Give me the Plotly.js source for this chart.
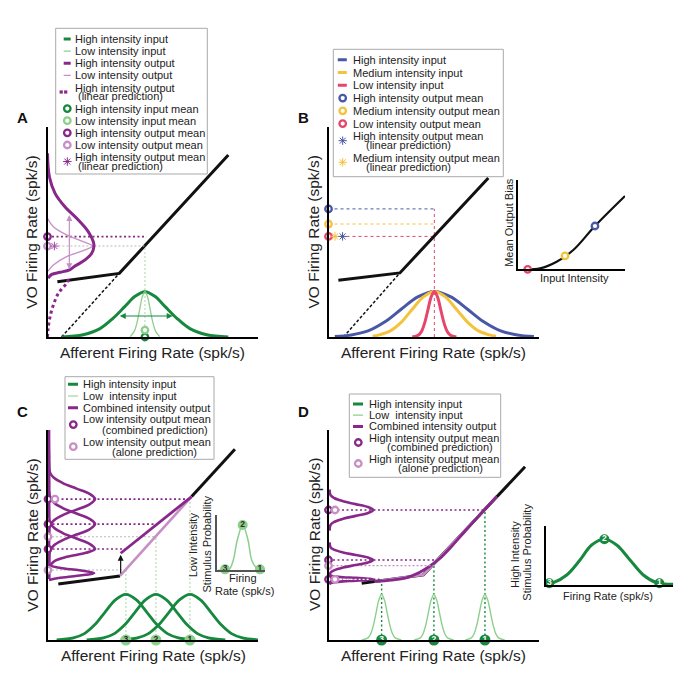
<!DOCTYPE html>
<html><head><meta charset="utf-8">
<script src="https://cdn.plot.ly/plotly-3.0.1.min.js"></script>
<style>html,body{margin:0;padding:0;background:#fff}#chart{width:683px;height:700px}</style>
</head><body><div id="chart"></div>
<script>
// ================= DATA =================
// ---- Panel A
const aNonlinX = [4.7, 34.2, 86.1];
const aNonlinY = [26.3, 30.3, 86.7];
const aLinExtX = [6.7, 34.2];
const aLinExtY = [0, 30.3];
const aHighInX = [6.7, 17, 25, 31.3, 36.9, 41.7, 46.4, 51.1, 55.9, 61.5, 67.8, 75.8, 86.1];
const aHighInY = [0, 1.1, 4, 9, 14.6, 19.4, 21.6, 19.4, 14.6, 9, 4, 1.1, 0];
const aLowInX = [39.4, 41.4, 42.65, 43.9, 45.15, 46.4, 47.65, 48.9, 50.15, 51.4, 53.4];
const aLowInY = [0.2, 2.9, 7, 13.1, 19.1, 21.6, 19.1, 13.1, 7, 2.9, 0.2];
const aHighOutX = [0, 0.9, 3.6, 8.3, 14.7, 19.4, 21.8, 22.1, 21, 17.9, 13.1, 10.5, 6, 2, 0.3];
const aHighOutY = [87.5, 76.3, 68.4, 62, 55.7, 50.2, 45.4, 43, 39.8, 36.7, 33.8, 32, 30.8, 29.8, 28];
const aLowOutX = [0, 2.8, 9.1, 17, 21.5, 17, 9.1, 2.8, 0];
const aLowOutY = [56.5, 52.5, 48.6, 45.4, 43.3, 41.1, 38.3, 34.3, 31.1];
const aLinTailX = [10, 9.1, 5.2, 2.5, 0.9, 0.2, 0];
const aLinTailY = [27.5, 25.6, 20.8, 14.4, 8.1, 3, 0];
const aInMean = 46.4;
const aLowInMeanY = 3.3;
const aHighOutMean = 47.8;
const aLowOutMean = 43.3;
const aLinPredX = 3.3;
const aInWidthX = [33.7, 59.6];
const aInWidthY = 10;
const aOutWidthX = 10.4;
const aOutWidthY = [31.6, 58.1];

// ---- Panel B
const bNonlinX = [4.7, 34, 76.1];
const bNonlinY = [27, 30.5, 75.7];
const bLinExtX = [7.1, 34];
const bLinExtY = [0, 30.5];
const bInMean = 50.4;
const bHighInX = [3, 10.9, 18.8, 26.7, 34.6, 42.5, 50.4, 58.3, 66.2, 74.1, 82, 89.9, 97.8];
const bHighInY = [0.2, 1, 2.9, 7.1, 13.2, 19.1, 21.7, 19.1, 13.2, 7.1, 2.9, 1, 0.2];
const bMedInX = [21, 24.2, 29.4, 34.7, 39.9, 45.2, 50.4, 55.7, 60.9, 66.2, 71.4, 76.6, 79.8];
const bMedInY = [0.4, 1, 2.9, 7.1, 13.2, 19.1, 21.7, 19.1, 13.2, 7.1, 2.9, 1, 0.4];
const bLowInX = [39.9, 42.9, 44.4, 45.9, 47.4, 48.9, 50.4, 51.9, 53.4, 54.9, 56.4, 57.9, 60.9];
const bLowInY = [0.05, 1, 2.9, 7.1, 13.2, 19.1, 21.7, 19.1, 13.2, 7.1, 2.9, 1, 0.05];
const bOutMeans = [61, 53.8, 47.9];        // high, medium, low
const bLinPredX = [6.7, 3.1];              // high, medium (linear prediction)
const bLinPredY = 47.9;
// B inset
const biX = [6.8, 20.8, 36.3, 51.8, 72, 100];
const biY = [0, 1.1, 8.5, 21.6, 48.5, 82.1];
const biMeanX = [9.3, 44.1, 72];           // low, medium, high
const biMeanY = [0, 15, 48.5];

// ---- Panel C
const cFlatX = [4.9, 34.3];
const cFlatY = [26.7, 30.5];
const cUpperX = [68.4, 89];
const cUpperY = [68.3, 90.8];
const cAloneX = [34.3, 68.4];
const cAloneY = [30.5, 68.3];
const cCombX = [34.6, 68.4];
const cCombY = [41.3, 68.3];
const cShiftX = 34.6;
const cShiftY = [31, 40.6];
const cInMeans = [67.6, 51.4, 37.1];       // stimuli 1, 2, 3
const cAloneMeans = [67.5, 49.2, 33.3];
const cCombMeans = [67.1, 55.2, 43.3];
const cIn1X = [34.6, 42.6, 47.6, 52.6, 57.6, 62.6, 67.6, 72.6, 77.6, 82.6, 87.6, 92.6, 100];
const cIn2X = [18.4, 26.4, 31.4, 36.4, 41.4, 46.4, 51.4, 56.4, 61.4, 66.4, 71.4, 76.4, 84.4];
const cIn3X = [4.1, 12.1, 17.1, 22.1, 27.1, 32.1, 37.1, 42.1, 47.1, 52.1, 57.1, 62.1, 70.1];
const cInY = [0.1, 1, 2.9, 7.1, 13.2, 19.1, 21.7, 19.1, 13.2, 7.1, 2.9, 1, 0.1];
const cOut1X = [0.5, 0.6, 1, 3, 7.3, 13.6, 19.8, 22.4, 19.8, 13.6, 7.3, 3, 1, 0.6, 0.5, 0.5];
const cOut1Y = [100, 88, 79.6, 77.1, 74.6, 72.1, 69.6, 67.1, 64.6, 62.1, 59.6, 57.1, 54.6, 50, 40, 29];
const cOut2X = [0.5, 0.6, 1, 3, 7.3, 13.6, 19.8, 22.4, 19.8, 13.6, 7.3, 3, 1, 0.6, 0.5];
const cOut2Y = [85, 75, 67.7, 65.2, 62.7, 60.2, 57.7, 55.2, 52.7, 50.2, 47.7, 45.2, 42.7, 36, 29];
const cOut3X = [0.5, 0.6, 1, 3, 7.3, 13.6, 19.8, 22.4, 18, 9, 3, 1.5, 6, 15, 22, 14, 5, 0.5];
const cOut3Y = [71, 62, 55.8, 53.3, 50.8, 48.3, 45.8, 43.3, 41.5, 39.6, 37.5, 35.5, 34.3, 33.2, 31.8, 30.6, 29.5, 28.6];
const cNumLabels = ['3', '2', '1'];
// C inset
const ciX = [3.3, 25, 34.4, 42.6, 53.8, 64.8, 72.5, 82.8, 95];
const ciY = [0, 0.5, 18.2, 54.5, 81.8, 54.5, 18.2, 3.6, 0];
const ciNumX = [17.2, 53.8, 89.6];
const ciNumY = [1.2, 81.8, 1.2];

// ---- Panel D
const dNonlinX = [15.8, 45.2, 93.6];
const dNonlinY = [27, 31, 82.5];
const dAloneX = [22, 45.2, 80.1];
const dAloneY = [27.8, 31, 68.3];
const dCombX = [22, 30, 37, 43, 48, 53, 59, 65, 72, 80.1];
const dCombY = [27.9, 28.5, 29.6, 32, 35, 38.8, 45, 51.8, 59.6, 68.3];
const dInMeans = [74.5, 50.2, 25.3];       // stimuli 1, 2, 3
const dCombMeans = [61.9, 38.1, 28.9];
const dAloneMeans = [61.9, 35.4, 28.9];
const dCurveAtMeans = [62.3, 36.5, 28.2];
const dIn1X = [65.1, 68, 69.3, 70.6, 71.9, 73.2, 74.5, 75.8, 77.1, 78.4, 79.7, 81, 83.9];
const dIn2X = [40.8, 43.7, 45, 46.3, 47.6, 48.9, 50.2, 51.5, 52.8, 54.1, 55.4, 56.7, 59.6];
const dIn3X = [15.9, 18.8, 20.1, 21.4, 22.7, 24, 25.3, 26.6, 27.9, 29.2, 30.5, 31.8, 34.7];
const dInY = [0, 1, 2.9, 7.1, 13.2, 19.1, 21.7, 19.1, 13.2, 7.1, 2.9, 1, 0];
const dOutX = [0.5, 1, 2.9, 6.9, 12.9, 18.8, 21.3, 18.8, 12.9, 6.9, 2.9, 1, 0.5];
const dOut1Y = [71.7, 68.9, 67.5, 66.1, 64.7, 63.3, 61.9, 60.5, 59.1, 57.7, 56.3, 54.9, 52.1];
const dOut2Y = [46.5, 44.1, 42.9, 41.7, 40.5, 39.3, 38.1, 36.9, 35.7, 34.5, 33.3, 32.1, 29.7];
const dOut3Y = [31.4, 30.7, 30.3, 29.9, 29.6, 29.2, 28.9, 28.6, 28.2, 27.9, 27.5, 27.1, 26.4];
const dNumLabels = ['1', '2', '3'];
// D inset
const diX = [0.8, 6, 16.5, 26.9, 36, 46, 55.6, 66.1, 76.5, 87, 100];
const diY = [1.1, 3.9, 17, 42.4, 67.8, 77.5, 67.8, 42.4, 17, 3.9, 1.1];
const diNumX = [2.8, 46, 89.1];
const diNumY = [2.9, 77.5, 2.9];

// ---- Legends
const legALabels = [['High intensity input'], ['Low intensity input'], ['High intensity output'], ['Low intensity output'],
  ['High intensity output', '(linear prediction)'], ['High intensity input mean'], ['Low intensity input mean'],
  ['High intensity output mean'], ['Low intensity output mean'], ['High intensity output mean', '(linear prediction)']];
const legAKeys = ['thick:green', 'thin:lgreen', 'thick:purple', 'thin:lpurple', 'dot:purple', 'ring:green', 'ring:lgreen', 'ring:purple', 'ring:lpurple', 'star:purple'];
const legBLabels = [['High intensity input'], ['Medium intensity input'], ['Low intensity input'], ['High intensity output mean'],
  ['Medium intensity output mean'], ['Low intensity output mean'], ['High intensity output mean', '(linear prediction)'],
  ['Medium intensity output mean', '(linear prediction)']];
const legBKeys = ['thick:blue', 'thick:yellow', 'thick:red', 'ring:blue', 'ring:yellow', 'ring:red', 'star:blue', 'star:yellow'];
const legCLabels = [['High intensity input'], ['Low\u00a0 intensity input'], ['Combined intensity output'],
  ['Low intensity output mean', '(combined prediction)'], ['Low intensity output mean', '(alone prediction)']];
const legCKeys = ['thick:green', 'thin:lgreen', 'thick:purple', 'ring:purple', 'ring:lpurple'];
const legDLabels = [['High intensity input'], ['Low\u00a0 intensity input'], ['Combined intensity output'],
  ['High intensity output mean', '(combined prediction)'], ['High intensity output mean', '(alone prediction)']];
const legDKeys = ['thick:green', 'thin:lgreen', 'thick:purple', 'ring:purple', 'ring:lpurple'];

// ================= STYLE / LAYOUT =================
const F = 'Liberation Sans, Arial, Helvetica, sans-serif';
const COL = {green: '#17893e', lgreen: '#8ccf8a', purple: '#88288a', lpurple: '#c78fc5', blue: '#4858a6',
  yellow: '#f4c23c', red: '#e6466b', black: '#111111', grayDot: '#b9b9b9', greenDot: '#a9d5a9', text: '#222222'};
const W = 683, H = 700;
const traces = [];
const ann = [];
const shapes = [];
const layout = {width: W, height: H, margin: {l: 0, r: 0, t: 0, b: 0}, showlegend: false,
  paper_bgcolor: '#fff', plot_bgcolor: 'rgba(0,0,0,0)', font: {family: F, color: COL.text}};

function sfx(n) { return n === 1 ? '' : String(n); }
function addAxes(n, box, range, xl, yl) {
  const base = {showgrid: false, zeroline: false, showticklabels: false, ticks: '', fixedrange: true};
  layout['xaxis' + sfx(n)] = Object.assign({}, base, {domain: [box[0] / W, box[1] / W], range: range[0], anchor: 'y' + sfx(n),
    showline: !!xl, linecolor: xl ? xl[0] : '#000', linewidth: xl ? xl[1] : 1, visible: true});
  layout['yaxis' + sfx(n)] = Object.assign({}, base, {domain: [1 - box[3] / H, 1 - box[2] / H], range: range[1], anchor: 'x' + sfx(n),
    showline: !!yl, linecolor: yl ? yl[0] : '#000', linewidth: yl ? yl[1] : 1, visible: true});
}
function add(n, x, y, o) {
  traces.push(Object.assign({type: 'scatter', x: x, y: y, xaxis: 'x' + sfx(n), yaxis: 'y' + sfx(n), mode: 'lines',
    hoverinfo: 'skip', showlegend: false, cliponaxis: false}, o));
}
function ln(n, x, y, color, width, dash, shape) {
  add(n, x, y, {line: {color: color, width: width, dash: dash || 'solid', shape: shape || 'linear', smoothing: 1}});
}
function ring(n, x, y, color, size) {
  add(n, x, y, {mode: 'markers', marker: {symbol: 'circle', size: size || 6.5, color: '#fff', line: {color: color, width: 2.3}}});
}
function star(n, x, y, color, size) {
  add(n, x, y, {mode: 'markers', marker: {symbol: 'asterisk-open', size: size || 7, color: color, line: {color: color, width: 1}}});
}
function nums(n, x, y, labels, fill, tcol, size) {
  add(n, x, y, {mode: 'markers+text', text: labels.map(s => '<b>' + s + '</b>'), textposition: 'middle center',
    marker: {size: size, color: fill, line: {width: 0}}, textfont: {family: F, size: 8.5, color: tcol}});
}
function txt(x, y, text, o) {
  ann.push(Object.assign({xref: 'paper', yref: 'paper', x: x / W, y: 1 - y / H, text: text, showarrow: false, borderpad: 0,
    font: {family: F, size: 11, color: COL.text}, xanchor: 'center', yanchor: 'middle'}, o || {}));
}
function arrow(n, x, y, ax, ay, color, both) {
  ann.push({xref: 'x' + sfx(n), yref: 'y' + sfx(n), axref: 'x' + sfx(n), ayref: 'y' + sfx(n), x: x, y: y, ax: ax, ay: ay,
    text: '', showarrow: true, arrowhead: 2, arrowsize: 1, arrowwidth: 1.2, arrowcolor: color, arrowside: both ? 'end+start' : 'end'});
}
function hline(n, x0, x1, y, color, width, dash) { ln(n, [x0, x1], [y, y], color, width, dash); }
function vline(n, x, y0, y1, color, width, dash) { ln(n, [x, x], [y0, y1], color, width, dash); }

// ---- axes (pixel boxes: left, right, top, bottom)
const R = [[0, 100], [0, 100]];
addAxes(1, [47.5, 257.5, 127, 337], R, ['#000', 2], ['#000', 2]);
addAxes(2, [328.5, 538.5, 127, 337], R, ['#000', 2], ['#000', 2]);
addAxes(3, [517.7, 625, 180, 269.3], R, ['#000', 2], ['#000', 1.6]);
addAxes(4, [48, 258, 430, 640], R, ['#000', 2], ['#000', 2]);
addAxes(5, [216.7, 265, 515, 570], R, ['#555', 1.5], ['#555', 1.8]);
addAxes(6, [328.5, 538.5, 430, 640], R, ['#000', 2], ['#000', 2]);
addAxes(7, [545.7, 673.3, 526, 585], R, ['#000', 1.5], ['#000', 1.5]);

// ================= PANEL A =================
ln(1, aLinExtX, aLinExtY, COL.black, 1.5, '3px,2px');
ln(1, aNonlinX, aNonlinY, COL.black, 3);
vline(1, aInMean, aLowInMeanY, aLowOutMean, COL.greenDot, 1, '2px,2px');
hline(1, 0, aInMean + 0.8, aHighOutMean, COL.purple, 1.6, '2px,2.5px');
hline(1, aLinPredX, aInMean + 0.8, aLowOutMean, COL.grayDot, 1.1, '2px,2px');
ln(1, aHighInX, aHighInY, COL.green, 3, 'solid', 'spline');
ln(1, aLowInX, aLowInY, COL.lgreen, 1.3, 'solid', 'spline');
ln(1, aLowOutX, aLowOutY, COL.lpurple, 1.3, 'solid', 'spline');
ln(1, aHighOutX, aHighOutY, COL.purple, 3, 'solid', 'spline');
ln(1, aLinTailX, aLinTailY, COL.purple, 3, '3px,3px', 'spline');
arrow(1, aInWidthX[1], aInWidthY, aInWidthX[0], aInWidthY, COL.green, true);
arrow(1, aOutWidthX, aOutWidthY[1], aOutWidthX, aOutWidthY[0], COL.lpurple, true);
ring(1, [aInMean], [0], COL.green);
ring(1, [aInMean], [aLowInMeanY], COL.lgreen);
ring(1, [0], [aHighOutMean], COL.purple);
ring(1, [0], [aLowOutMean], COL.lpurple);
star(1, [aLinPredX], [aLowOutMean], '#a64fa6');

// ================= PANEL B =================
vline(2, bInMean, 0, bOutMeans[0], COL.red, 1, '3px,3px');
hline(2, 0, bInMean, bOutMeans[0], COL.blue, 1, '3px,3px');
hline(2, 0, bInMean, bOutMeans[1], COL.yellow, 1, '3px,3px');
hline(2, 0, bInMean, bOutMeans[2], COL.red, 1, '3px,3px');
ln(2, bLinExtX, bLinExtY, COL.black, 1.5, '3px,2px');
ln(2, bNonlinX, bNonlinY, COL.black, 3);
ln(2, bHighInX, bHighInY, COL.blue, 3, 'solid', 'spline');
ln(2, bMedInX, bMedInY, COL.yellow, 3, 'solid', 'spline');
ln(2, bLowInX, bLowInY, COL.red, 3, 'solid', 'spline');
ring(2, [0], [bOutMeans[0]], COL.blue);
ring(2, [0], [bOutMeans[1]], COL.yellow);
ring(2, [0], [bOutMeans[2]], COL.red);
star(2, [bLinPredX[1]], [bLinPredY], COL.yellow);
star(2, [bLinPredX[0]], [bLinPredY], COL.blue);
// B inset
ln(3, biX, biY, COL.black, 2.2, 'solid', 'spline');
ring(3, [biMeanX[0]], [biMeanY[0]], COL.red);
ring(3, [biMeanX[1]], [biMeanY[1]], COL.yellow);
ring(3, [biMeanX[2]], [biMeanY[2]], COL.blue);

// ================= PANEL C =================
cInMeans.forEach((m, i) => vline(4, m, 0, cAloneMeans[i], COL.greenDot, 1, '2px,2px'));
cCombMeans.forEach((m, i) => hline(4, 0, cInMeans[i], m, COL.purple, 1.6, '2px,2.5px'));
[1, 2].forEach(i => hline(4, 0, cInMeans[i], cAloneMeans[i], COL.grayDot, 1.1, '2px,2px'));
ln(4, cFlatX, cFlatY, COL.black, 3);
ln(4, cUpperX, cUpperY, COL.black, 3);
ln(4, cAloneX, cAloneY, COL.lpurple, 2.6);
ln(4, cCombX, cCombY, COL.purple, 2.8);
arrow(4, cShiftX, cShiftY[1], cShiftX, cShiftY[0], COL.black, false);
ln(4, cIn1X, cInY, COL.green, 2.8, 'solid', 'spline');
ln(4, cIn2X, cInY, COL.green, 2.8, 'solid', 'spline');
ln(4, cIn3X, cInY, COL.green, 2.8, 'solid', 'spline');
ln(4, cOut1X, cOut1Y, COL.purple, 2.6, 'solid', 'spline');
ln(4, cOut2X, cOut2Y, COL.purple, 2.6, 'solid', 'spline');
ln(4, cOut3X, cOut3Y, COL.purple, 2.6, 'solid', 'spline');
ring(4, [0, 0, 0], cCombMeans, COL.purple);
ring(4, [3.3, 0, 0], [cCombMeans[0], cAloneMeans[1], cAloneMeans[2]], COL.lpurple);
nums(4, cInMeans.slice().reverse(), [0, 0, 0], cNumLabels, COL.lgreen, '#2a2a2a', 11);
// C inset
ln(5, ciX, ciY, COL.lgreen, 1.5, 'solid', 'spline');
nums(5, ciNumX, ciNumY, cNumLabels, COL.lgreen, '#2a2a2a', 10);

// ================= PANEL D =================
ln(6, dNonlinX, dNonlinY, COL.black, 3);
ln(6, dAloneX, dAloneY, COL.lpurple, 2.6);
ln(6, dCombX, dCombY, COL.purple, 2.8, 'solid', 'spline');
dInMeans.forEach((m, i) => vline(6, m, 0, dCurveAtMeans[i], COL.green, 1.4, '2px,2.5px'));
dCombMeans.forEach((m, i) => hline(6, 0, dInMeans[i] + [0, 0.5, -1][i], m, COL.purple, 1.6, '2px,2.5px'));
hline(6, 0, dInMeans[1], dAloneMeans[1], COL.lpurple, 1.2, '2px,2px');
ln(6, dIn1X, dInY, COL.lgreen, 1.4, 'solid', 'spline');
ln(6, dIn2X, dInY, COL.lgreen, 1.4, 'solid', 'spline');
ln(6, dIn3X, dInY, COL.lgreen, 1.4, 'solid', 'spline');
ln(6, dOutX, dOut1Y, COL.purple, 2.6, 'solid', 'spline');
ln(6, dOutX, dOut2Y, COL.purple, 2.6, 'solid', 'spline');
ln(6, dOutX, dOut3Y, COL.purple, 2.6, 'solid', 'spline');
hline(6, 1, 20, dCombMeans[2], '#ffffff', 1.2, '2px,2px');
ring(6, [0, 0, 0], dCombMeans, COL.purple);
ring(6, [3.1, 0, 3.1], dAloneMeans, COL.lpurple);
nums(6, dInMeans, [0, 0, 0], dNumLabels, COL.green, '#ffffff', 11);
// D inset
ln(7, diX, diY, COL.green, 3, 'solid', 'spline');
nums(7, diNumX, diNumY, cNumLabels, COL.green, '#ffffff', 10);

// ================= LEGENDS =================
function drawLegend(n, box, firstY, step, sub, lineX, dotX, symX, textX, subX, subAnchor, labels, keys) {
  const bw = box[2] - box[0], bh = box[3] - box[1];
  layout['xaxis' + n] = {domain: [box[0] / W, box[2] / W], range: [0, bw], visible: false, fixedrange: true, anchor: 'y' + n};
  layout['yaxis' + n] = {domain: [1 - box[3] / H, 1 - box[1] / H], range: [bh, 0], visible: false, fixedrange: true, anchor: 'x' + n};
  shapes.push({type: 'rect', xref: 'x' + n + ' domain', yref: 'y' + n + ' domain', x0: 0, x1: 1, y0: 0, y1: 1,
    line: {color: '#a9a9a9', width: 1}, fillcolor: '#ffffff', layer: 'below'});
  let y = firstY;
  labels.forEach((lab, i) => {
    const parts = keys[i].split(':');
    const kind = parts[0], col = COL[parts[1]];
    const sy = lab.length > 1 ? y + sub / 2 : y;
    if (kind === 'thick') ln(n, lineX, [sy, sy], col, 3);
    else if (kind === 'thin') ln(n, lineX, [sy, sy], col, 1.2);
    else if (kind === 'dot') add(n, dotX, [sy, sy], {mode: 'markers', marker: {symbol: 'square', size: 3.2, color: col}});
    else if (kind === 'ring') ring(n, [symX], [sy], col, 6.5);
    else if (kind === 'star') star(n, [symX], [sy], col, 7);
    ann.push({xref: 'x' + n, yref: 'y' + n, x: textX, y: y, text: lab[0], showarrow: false, xanchor: 'left', yanchor: 'middle',
      borderpad: 0, font: {family: F, size: 11, color: COL.text}});
    if (lab.length > 1) {
      ann.push({xref: 'x' + n, yref: 'y' + n, x: subX, y: y + sub, text: lab[1], showarrow: false, xanchor: subAnchor, yanchor: 'middle',
        borderpad: 0, font: {family: F, size: 11, color: COL.text}});
      y += sub;
    }
    y += step;
  });
}
drawLegend(8, [55.7, 28.3, 207.3, 174], 10.7, 12.15, 8.8, [8, 15], [5.5, 10], 11.6, 18, 21.5, 'left', legALabels, legAKeys);
drawLegend(9, [333.3, 49.3, 503.3, 176.7], 10.5, 12.75, 8.8, [4.5, 13.5], [5, 10], 9.4, 18.4, 31.7, 'left', legBLabels, legBKeys);
drawLegend(10, [65, 376.7, 214, 459.3], 7.6, 11.7, 10.4, [3, 13], [4, 9], 8.3, 16.7, 89.5, 'center', legCLabels, legCKeys);
drawLegend(11, [349.3, 394, 500.7, 477.3], 10, 11.2, 9.8, [3.7, 13.7], [4, 9], 9, 18.4, 91, 'center', legDLabels, legDKeys);

// ================= TEXT =================
const big = {family: F, size: 15.5, color: COL.text};
const lab = {family: F, size: 15, color: '#111'};
txt(22.5, 117, '<b>A</b>', {font: lab});
txt(303, 117, '<b>B</b>', {font: lab});
txt(22.5, 412, '<b>C</b>', {font: lab});
txt(303, 412, '<b>D</b>', {font: lab});
txt(31.7, 232, 'VO Firing Rate (spk/s)', {font: big, textangle: -90});
txt(152.5, 352, 'Afferent Firing Rate (spk/s)', {font: big});
txt(313.5, 232, 'VO Firing Rate (spk/s)', {font: big, textangle: -90});
txt(433.5, 352, 'Afferent Firing Rate (spk/s)', {font: big});
txt(31.7, 535, 'VO Firing Rate (spk/s)', {font: big, textangle: -90});
txt(153, 655, 'Afferent Firing Rate (spk/s)', {font: big});
txt(314, 535, 'VO Firing Rate (spk/s)', {font: big, textangle: -90});
txt(433.5, 655, 'Afferent Firing Rate (spk/s)', {font: big});
// insets
txt(574.3, 277.7, 'Input Intensity');
txt(508.3, 222.5, 'Mean Output Bias', {textangle: -90});
txt(193.3, 545, 'Low Intensity', {textangle: -90});
txt(206, 544.5, 'Stimulus Probability', {textangle: -90});
txt(242.7, 578.3, 'Firing');
txt(244, 590.7, 'Rate (spk/s)');
txt(515, 555, 'High Intensity', {textangle: -90});
txt(526.7, 552, 'Stimulus Probability', {textangle: -90});
txt(608.3, 595.7, 'Firing Rate (spk/s)');

layout.annotations = ann;
layout.shapes = shapes;
Plotly.newPlot('chart', traces, layout, {staticPlot: true, displayModeBar: false});
</script></body></html>
